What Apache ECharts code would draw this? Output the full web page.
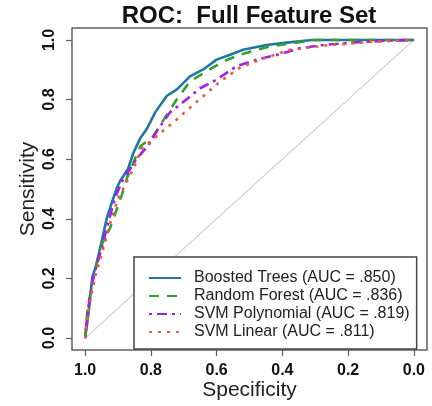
<!DOCTYPE html>
<html>
<head>
<meta charset="utf-8">
<script src="https://cdn.jsdelivr.net/npm/echarts@6/dist/echarts.min.js"></script>
<style>
html,body{margin:0;padding:0;background:#fff;}
#chart{width:432px;height:406px;}
</style>
</head>
<body>
<div id="chart"></div>
<script>
const seriesNames = ['Boosted Trees (AUC = .850)', 'Random Forest (AUC = .836)', 'SVM Polynomial (AUC = .819)', 'SVM Linear (AUC = .811)'];
const tickValues = [0, 0.2, 0.4, 0.6, 0.8, 1.0];

const btSpec = [1.000, 0.991, 0.978, 0.966, 0.954, 0.934, 0.924, 0.904, 0.894, 0.869, 0.854, 0.833, 0.812, 0.787, 0.752, 0.721, 0.681, 0.641, 0.600, 0.559, 0.520, 0.448, 0.387, 0.310, 0.000];
const btSens = [0.000, 0.072, 0.205, 0.245, 0.304, 0.403, 0.437, 0.503, 0.526, 0.569, 0.619, 0.669, 0.702, 0.757, 0.812, 0.834, 0.878, 0.901, 0.934, 0.950, 0.967, 0.983, 0.991, 1.000, 1.000];

const rfSpec = [1.000, 0.993, 0.975, 0.954, 0.924, 0.888, 0.873, 0.833, 0.792, 0.747, 0.721, 0.681, 0.630, 0.580, 0.529, 0.478, 0.438, 0.377, 0.301, 0.000];
const rfSens = [0.000, 0.095, 0.205, 0.304, 0.370, 0.481, 0.536, 0.642, 0.679, 0.757, 0.801, 0.861, 0.895, 0.928, 0.950, 0.967, 0.978, 0.988, 1.000, 1.000];

const spSpec = [1.000, 0.997, 0.990, 0.975, 0.949, 0.934, 0.909, 0.888, 0.843, 0.808, 0.777, 0.742, 0.691, 0.650, 0.600, 0.539, 0.478, 0.417, 0.347, 0.276, 0.174, 0.073, 0.000];
const spSens = [0.000, 0.039, 0.105, 0.205, 0.304, 0.370, 0.470, 0.526, 0.602, 0.646, 0.702, 0.757, 0.801, 0.838, 0.867, 0.912, 0.934, 0.950, 0.972, 0.983, 0.992, 0.998, 1.000];

const slSpec = [1.000, 0.994, 0.985, 0.970, 0.944, 0.919, 0.899, 0.853, 0.828, 0.802, 0.762, 0.726, 0.686, 0.640, 0.590, 0.529, 0.468, 0.377, 0.255, 0.134, 0.000];
const slSens = [0.000, 0.055, 0.122, 0.205, 0.304, 0.403, 0.470, 0.569, 0.635, 0.659, 0.696, 0.729, 0.768, 0.812, 0.860, 0.907, 0.934, 0.967, 0.983, 0.993, 1.000];

const diagSpec = [1, 0];
const diagSens = [0, 1];

const zip = (a, b) => a.map((v, i) => [v, b[i]]);
const FONT = '"Liberation Sans", Arial, Helvetica, sans-serif';

const chart = echarts.init(document.getElementById('chart'), null, {renderer: 'canvas'});

const lineSeries = (name, xs, ys, color, type, width) => ({
  name: name, type: 'line', data: zip(xs, ys), showSymbol: false, symbol: 'none',
  animation: false, silent: true,
  lineStyle: {color: color, width: width, type: type, cap: 'butt'},
  itemStyle: {color: color}
});

chart.setOption({
  backgroundColor: '#ffffff',
  animation: false,
  title: {
    text: 'ROC:  Full Feature Set',
    left: 249, top: 4, padding: 0, textAlign: 'center',
    textStyle: {fontFamily: FONT, fontWeight: 'bold', fontSize: 24, color: '#111'}
  },
  grid: {
    left: 72, top: 28, width: 355, height: 325,
    show: true, borderColor: '#606060', borderWidth: 1.5, backgroundColor: 'transparent'
  },
  legend: {
    orient: 'vertical', left: 134, top: 257,
    padding: [13, 7, 9, 14], itemGap: 2, itemWidth: 32, itemHeight: 14,
    borderColor: '#444', borderWidth: 1.5, backgroundColor: '#fff',
    itemStyle: {opacity: 0, borderWidth: 0},
    textStyle: {fontFamily: FONT, fontSize: 16, lineHeight: 16, color: '#222', padding: [0, 0, 0, 8]},
    data: seriesNames
  },
  xAxis: {
    type: 'value', inverse: true, min: -0.04, max: 1.04,
    name: 'Specificity', nameLocation: 'middle', nameGap: 30, nameMoveOverlap: false,
    nameTextStyle: {fontFamily: FONT, fontSize: 21, color: '#222'},
    axisLine: {show: false, onZero: false},
    axisTick: {show: true, length: 6, inside: false, customValues: tickValues, lineStyle: {color: '#606060', width: 1.2}},
    axisLabel: {customValues: tickValues, margin: 13, fontFamily: FONT, fontWeight: 'bold', fontSize: 16, color: '#111',
      formatter: v => v.toFixed(1)},
    splitLine: {show: false}
  },
  yAxis: {
    type: 'value', min: -0.04, max: 1.04,
    name: 'Sensitivity', nameLocation: 'middle', nameGap: 33, nameRotate: 90, nameMoveOverlap: false,
    nameTextStyle: {fontFamily: FONT, fontSize: 21, color: '#222'},
    axisLine: {show: false, onZero: false},
    axisTick: {show: true, length: 6, inside: false, customValues: tickValues, lineStyle: {color: '#606060', width: 1.2}},
    axisLabel: {customValues: tickValues, rotate: 90, margin: 14, fontFamily: FONT, fontWeight: 'bold', fontSize: 16, color: '#111',
      formatter: v => v.toFixed(1)},
    splitLine: {show: false}
  },
  series: [
    {type: 'line', data: zip(diagSpec, diagSens), showSymbol: false, symbol: 'none', silent: true,
      lineStyle: {color: '#cccccc', width: 1.2}, z: 1},
    lineSeries(seriesNames[0], btSpec, btSens, '#1f78a4', 'solid', 2.6),
    lineSeries(seriesNames[1], rfSpec, rfSens, '#33a02c', [10, 8], 2.6),
    lineSeries(seriesNames[2], spSpec, spSens, '#a020f0', [3, 5, 10, 5], 2.6),
    lineSeries(seriesNames[3], slSpec, slSens, '#ee5a3c', [3, 6], 2.6)
  ]
});
</script>
</body>
</html>
